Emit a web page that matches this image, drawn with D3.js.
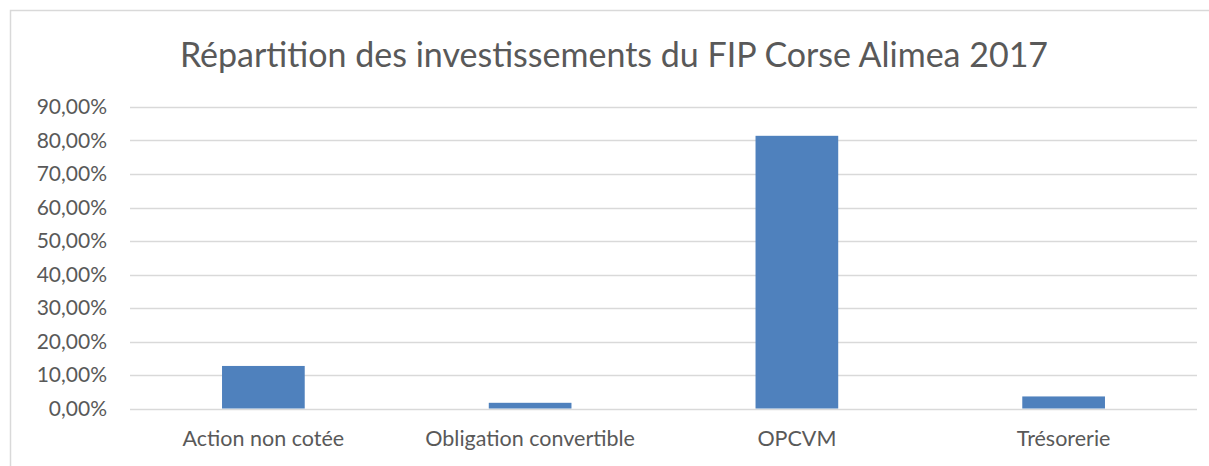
<!DOCTYPE html>
<html>
<head>
<meta charset="utf-8">
<script src="https://cdn.jsdelivr.net/npm/d3@7"></script>
<style>
  body { margin: 0; background: #fff; }
  text { font-family: Lato, "Open Sans", sans-serif; fill: #595959; }
</style>
</head>
<body>
<div id="chart"></div>
<script>
const categories = ["Action non cotée", "Obligation convertible", "OPCVM", "Trésorerie"];
const values = [0.127, 0.017, 0.814, 0.036];
const yTicks = [0, 0.1, 0.2, 0.3, 0.4, 0.5, 0.6, 0.7, 0.8, 0.9];

const W = 1209, H = 466;
const margin = {top: 107, right: 12, bottom: 57.5, left: 130};
const width = W - margin.left - margin.right,
      height = H - margin.top - margin.bottom;

const root = d3.select("#chart")
  .append("svg")
  .attr("width", W)
  .attr("height", H);

// chart area border
root.append("rect")
  .attr("x", 10.5).attr("y", 10.5)
  .attr("width", W + 20).attr("height", H + 20)
  .attr("fill", "none")
  .attr("stroke", "#d9d9d9")
  .attr("stroke-width", 1.5);

root.append("text")
  .attr("x", 614)
  .attr("y", 67)
  .attr("text-anchor", "middle")
  .style("font-size", "34px")
  .text("Répartition des investissements du FIP Corse Alimea 2017");

const svg = root.append("g")
  .attr("transform", `translate(${margin.left}, ${margin.top})`);

const x = d3.scaleBand()
  .domain(categories)
  .range([0, width])
  .paddingInner(0.69)
  .paddingOuter(0.345);

const y = d3.scaleLinear()
  .domain([0, 0.9])
  .range([height, 0]);

const fmt = d => d3.format(".2f")(d * 100).replace(".", ",") + "%";

// gridlines
svg.append("g")
  .selectAll("line")
  .data(yTicks)
  .join("line")
  .attr("x1", 0)
  .attr("x2", width)
  .attr("y1", d => Math.round(y(d)) + 0.5)
  .attr("y2", d => Math.round(y(d)) + 0.5)
  .attr("stroke", "#d9d9d9")
  .attr("stroke-width", 1.3);

// y axis labels
const yAxis = svg.append("g")
  .call(d3.axisLeft(y).tickValues(yTicks).tickFormat(fmt).tickSize(0).tickPadding(23));
yAxis.select(".domain").remove();
yAxis.selectAll("text").style("font-size", "21px").attr("fill", "#595959");

// bars
svg.append("g")
  .selectAll("rect")
  .data(values)
  .join("rect")
  .attr("x", (d, i) => x(categories[i]))
  .attr("y", d => y(d))
  .attr("width", x.bandwidth())
  .attr("height", d => height - y(d))
  .attr("fill", "#4f81bd");

// x axis labels
const band = x.copy().paddingInner(0).paddingOuter(0);
const xAxis = svg.append("g")
  .attr("transform", `translate(0, ${height})`)
  .call(d3.axisBottom(band).tickSize(0).tickPadding(22));
xAxis.select(".domain").remove();
xAxis.selectAll("text").style("font-size", "21.5px").attr("fill", "#595959");
</script>
</body>
</html>
